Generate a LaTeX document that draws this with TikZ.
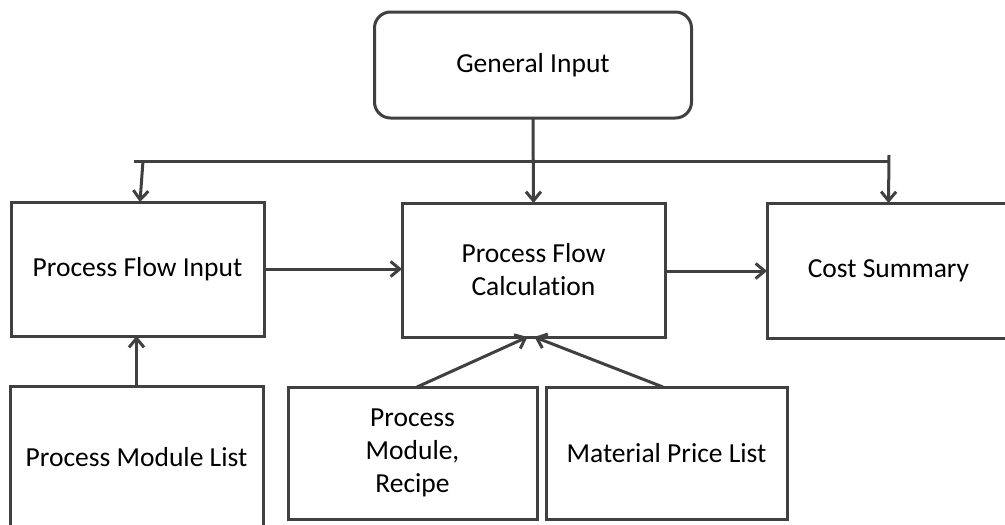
\documentclass[tikz,border=0pt]{standalone}
\usepackage{fontspec}
\setmainfont{Carlito}[Ligatures=NoCommon]
\usetikzlibrary{arrows.meta}
\definecolor{edge}{HTML}{404040}
\tikzset{
  box/.style={draw=edge, line width=3pt, fill=white, align=center,
    inner sep=0pt, outer sep=0pt,
    font=\fontsize{27.5}{33}\selectfont},
  roundbox/.style={box, rounded corners=16pt},
  link/.style={draw=edge, line width=3pt},
  arr/.style={link, -{Straight Barb[length=9pt,width=15pt,line width=3pt]}}
}
\begin{document}
\begin{tikzpicture}[x=1pt,y=-1pt]
\useasboundingbox (0,0) rectangle (1005,525);

% boxes
\node[roundbox, minimum width=317pt, minimum height=106pt] (gen) at (533,65) {General Input};
\node[box, minimum width=253pt, minimum height=134pt] (pfi) at (137.5,269) {Process Flow Input};
\node[box, minimum width=263pt, minimum height=134pt] (pfc) at (533.5,270) {Process Flow\\Calculation};
\node[box, minimum width=243pt, minimum height=135pt] (cost) at (888.5,270.5) {Cost Summary};
\node[box, minimum width=253pt, minimum height=142pt] (pml) at (136.5,457) {Process Module List};
\node[box, minimum width=249pt, minimum height=132pt] (pmr) at (412.5,453) {Process\\Module,\\Recipe};
\node[box, minimum width=241pt, minimum height=132pt] (mpl) at (666.5,453) {Material Price List};

% distribution bar below the general input
\coordinate (tl) at (134,161);
\coordinate (tr) at (889,161);
\coordinate (trtop) at (889,155);
\coordinate (lb) at (143,161);
\draw[link] (tl) -- (tr);
\draw[arr] (gen.south) -- (pfc.north);
\draw[arr] (lb) -- ([xshift=2.5pt]pfi.north);
\draw[arr] (trtop) -- (cost.north);

% main flow
\draw[arr] (pfi.east |- 0,269) -- (pfc.west |- 0,269);
\draw[arr] (pfc.east |- 0,271) -- (cost.west |- 0,271);

% inputs from below
\draw[arr] (pml.north) -- (pfi.south -| pml.north);
\draw[arr] ([xshift=4.5pt]pmr.north) -- ([xshift=-6pt]pfc.south);
\draw[arr] ([xshift=-3.5pt]mpl.north) -- ([xshift=1pt]pfc.south);
\end{tikzpicture}
\end{document}
